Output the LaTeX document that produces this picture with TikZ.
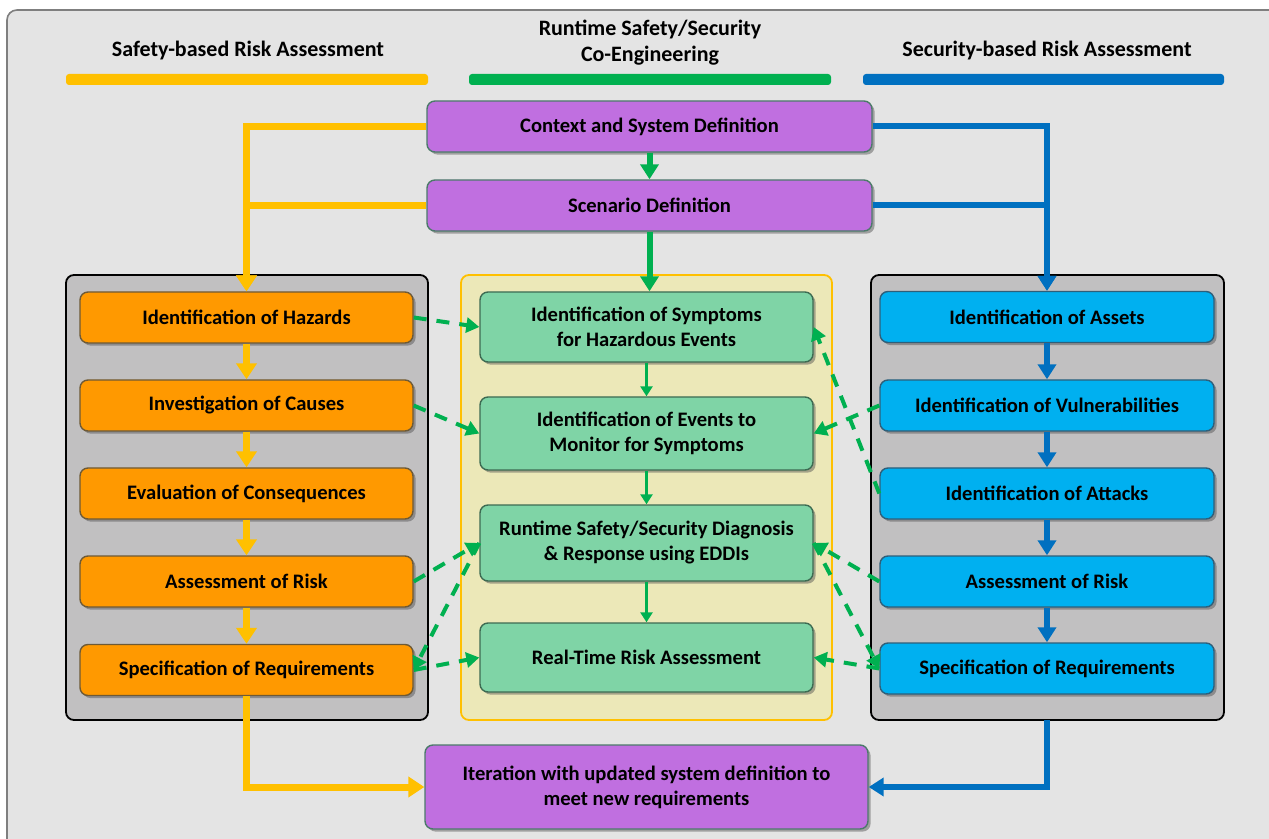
\documentclass[tikz,border=0pt]{standalone}
\usepackage{fontspec}
\setmainfont{Carlito}
\usetikzlibrary{arrows.meta,shadows}
\definecolor{bgc}{HTML}{E4E4E4}
\definecolor{framec}{HTML}{7F7F7F}
\definecolor{panelg}{HTML}{C1C0C1}
\definecolor{panely}{HTML}{ECE8B8}
\definecolor{ylw}{HTML}{FFC000}
\definecolor{grn}{HTML}{00B050}
\definecolor{blu}{HTML}{0070C0}
\definecolor{orf}{HTML}{FF9900}
\definecolor{orb}{HTML}{6E5A36}
\definecolor{grf}{HTML}{7FD4A6}
\definecolor{grb}{HTML}{3D6B52}
\definecolor{blf}{HTML}{00B0F0}
\definecolor{blb}{HTML}{2E5F7A}
\definecolor{puf}{HTML}{C06FE0}
\definecolor{pub}{HTML}{4C7A6A}
\tikzset{
  x=0.5pt, y=-0.5pt,
  box/.style={rounded corners=4pt, line width=0.7pt, align=center, inner sep=0pt,
    font=\bfseries\fontsize{10.3}{12.5}\selectfont,
    drop shadow={shadow xshift=1.3pt, shadow yshift=-1.3pt, opacity=0.45, fill=black!70}},
  obox/.style={box, draw=orb, fill=orf, minimum width=166.5pt, minimum height=25.5pt},
  gbox/.style={box, draw=grb, fill=grf, minimum width=166.5pt},
  bbox/.style={box, draw=blb, fill=blf, minimum width=167pt, minimum height=25.5pt},
  pbox/.style={box, draw=pub, fill=puf},
  hdr/.style={font=\bfseries\fontsize{11}{13}\selectfont, align=center, inner sep=0pt},
  bar/.style={rounded corners=1.5pt, draw=none},
  yarr/.style={draw=ylw, line width=3.5pt, -{Triangle[width=10pt,length=8pt]}},
  barr/.style={draw=blu, line width=3pt, -{Triangle[width=9pt,length=7.5pt]}},
  garrthick/.style={draw=grn, line width=3pt, -{Triangle[width=9pt,length=7.5pt]}},
  garrthin/.style={draw=grn, line width=1.6pt, -{Triangle[width=6pt,length=5pt]}},
  darr/.style={draw=grn, line width=2pt, dash pattern=on 6.5pt off 5pt, -{Triangle[width=7.5pt,length=6.5pt]}},
}
\begin{document}
\begin{tikzpicture}
\useasboundingbox (0,0) rectangle (1269,839);
% outer frame
\draw[fill=bgc, draw=framec, line width=0.8pt, rounded corners=5pt] (7,10) rectangle (1300,870);
% headers
\node[hdr] (h1) at (248,51) {Safety-based Risk Assessment};
\node[hdr] (h2) at (650,43) {Runtime Safety/Security\\Co-Engineering};
\node[hdr] (h3) at (1047,51) {Security-based Risk Assessment};
\fill[bar, fill=ylw] (66,74) rectangle (428,85);
\fill[bar, fill=grn] (469,74) rectangle (831,85);
\fill[bar, fill=blu] (863,74) rectangle (1224,85);
% panels
\draw[fill=panelg, draw=black, line width=0.9pt, rounded corners=4pt] (66,275) rectangle (428,720);
\draw[fill=panely, draw=ylw, line width=0.9pt, rounded corners=4pt] (461,275) rectangle (832,720);
\draw[fill=panelg, draw=black, line width=0.9pt, rounded corners=4pt] (871,275) rectangle (1224,720);
\coordinate (rpb) at (1047,720);
% purple boxes
\node[pbox, minimum width=222.5pt, minimum height=25.5pt] (ctx) at (649.5,126.5) {Context and System Definition};
\node[pbox, minimum width=222.5pt, minimum height=25.5pt] (scn) at (649.5,205.5) {Scenario Definition};
\node[pbox, minimum width=221.5pt, minimum height=42pt] (it) at (646.5,787) {Iteration with updated system definition to\\meet new requirements};
% orange boxes
\node[obox] (hz) at (246.5,317.5) {Identification of Hazards};
\node[obox] (ca) at (246.5,405.5) {Investigation of Causes};
\node[obox] (ev1) at (246.5,493.5) {Evaluation of Consequences};
\node[obox] (ar) at (246.5,581.5) {Assessment of Risk};
\node[obox] (sr) at (246.5,670) {Specification of Requirements};
% green boxes
\node[gbox, minimum height=35pt] (sy) at (646.5,327) {Identification of Symptoms\\for Hazardous Events};
\node[gbox, minimum height=36.5pt] (ev) at (646.5,433.5) {Identification of Events to\\Monitor for Symptoms};
\node[gbox, minimum height=38pt] (rt) at (646.5,543) {Runtime Safety/Security Diagnosis\\\& Response using EDDIs};
\node[gbox, minimum height=34.5pt] (rr) at (646.5,657.5) {Real-Time Risk Assessment};
% blue boxes
\node[bbox] (as) at (1047,317) {Identification of Assets};
\node[bbox] (vu) at (1047,405.5) {Identification of Vulnerabilities};
\node[bbox] (at) at (1047,493.5) {Identification of Attacks};
\node[bbox] (ar2) at (1047,581.5) {Assessment of Risk};
\node[bbox] (sr2) at (1047,668.5) {Specification of Requirements};
% yellow arrows
\draw[yarr] (ctx.west) -| (hz.north);
\draw[yarr] (scn.west) -| (hz.north);
\draw[yarr] (hz.south) -- (ca.north);
\draw[yarr] (ca.south) -- (ev1.north);
\draw[yarr] (ev1.south) -- (ar.north);
\draw[yarr] (ar.south) -- (sr.north);
\draw[yarr] (sr.south) |- (it.west);
% blue arrows
\draw[barr] (ctx.east) -| (as.north);
\draw[barr] (scn.east) -| (as.north);
\draw[barr] (as.south) -- (vu.north);
\draw[barr] (vu.south) -- (at.north);
\draw[barr] (at.south) -- (ar2.north);
\draw[barr] (ar2.south) -- (sr2.north);
\draw[barr] (rpb) |- (it.east);
% green arrows
\draw[garrthick] (ctx.south) -- (scn.north);
\draw[garrthick] (scn.south) -- (scn.south |- sy.north);
\draw[garrthin] (sy.south) -- (ev.north);
\draw[garrthin] (ev.south) -- (rt.north);
\draw[garrthin] (rt.south) -- (rr.north);
% dashed
\draw[darr] (hz.east) -- (sy.west);
\draw[darr] (ca.east) -- (ev.west);
\draw[darr] (ar.east) -- (rt.west);
\draw[darr] (rt.west) -- (sr.east);
\draw[darr] (sr.east) -- (rr.west);
\draw[darr] (vu.west) -- (ev.east);
\draw[darr] (at.west) -- (sy.east);
\draw[darr] (ar2.west) -- (rt.east);
\draw[darr] (rt.east) -- (sr2.west);
\draw[darr] (sr2.west) -- (rr.east);
\end{tikzpicture}
\end{document}
